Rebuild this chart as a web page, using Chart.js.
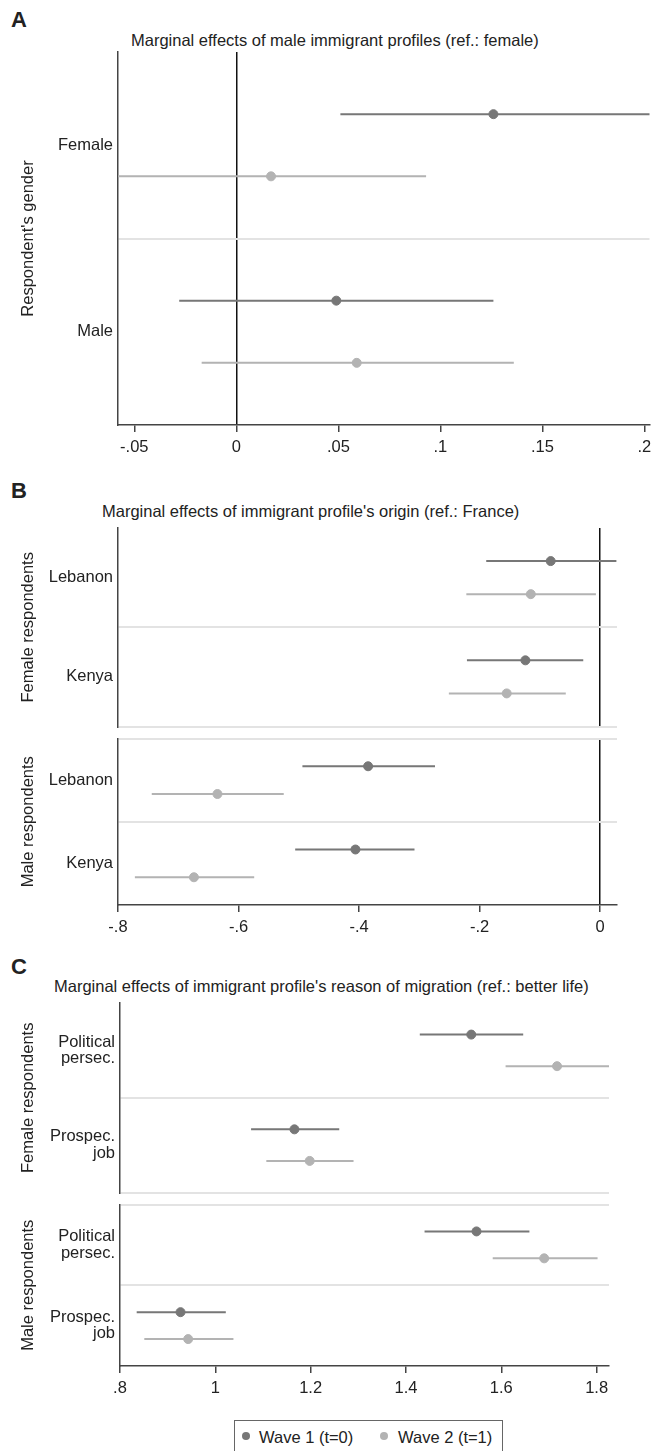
<!DOCTYPE html>
<html>
<head>
<meta charset="utf-8">
<script src="https://cdn.jsdelivr.net/npm/chart.js@4.4.1/dist/chart.umd.min.js"></script>
<style>
body { margin: 0; background: #fff; font-family: "Liberation Sans", Arial, sans-serif; color: #222; }
#page { position: relative; width: 655px; height: 1451px; overflow: hidden; }
#page canvas { position: absolute; left: 0; }
.letter { position: absolute; font-weight: bold; font-size: 22px; line-height: 22px; }
.ptitle { position: absolute; font-size: 16.5px; line-height: 16.5px; white-space: nowrap; }
#legend { position: absolute; left: 234px; top: 1420px; width: 269px; height: 40px; border: 1px solid #666; box-sizing: border-box; }
.ldot { position: absolute; width: 8px; height: 8px; border-radius: 50%; }
.ltxt { position: absolute; font-size: 16.5px; line-height: 16.5px; white-space: nowrap; }
</style>
</head>
<body>
<div id="page">
  <div class="letter" style="left:11px; top:9px;">A</div>
  <div class="ptitle" style="left:131px; top:32px;">Marginal effects of male immigrant profiles (ref.: female)</div>
  <canvas id="chartA" width="655" height="413" style="top:44px;"></canvas>

  <div class="letter" style="left:11px; top:480px;">B</div>
  <div class="ptitle" style="left:102px; top:503px;">Marginal effects of immigrant profile's origin (ref.: France)</div>
  <canvas id="chartBf" width="655" height="212" style="top:520px;"></canvas>
  <canvas id="chartBm" width="655" height="204" style="top:733px;"></canvas>

  <div class="letter" style="left:11px; top:956px;">C</div>
  <div class="ptitle" style="left:54px; top:978px;">Marginal effects of immigrant profile's reason of migration (ref.: better life)</div>
  <canvas id="chartCf" width="655" height="203" style="top:995px;"></canvas>
  <canvas id="chartCm" width="655" height="199" style="top:1199px;"></canvas>

  <div id="legend">
    <div class="ldot" style="left:7px; top:11px; background:#777;"></div>
    <div class="ltxt" style="left:24px; top:8px;">Wave 1 (t=0)</div>
    <div class="ldot" style="left:145px; top:11px; background:#b3b3b3;"></div>
    <div class="ltxt" style="left:163px; top:8px;">Wave 2 (t=1)</div>
  </div>
</div>

<script>
//==================== Data ====================

// Panel A : male immigrant profiles (ref.: female)
var xTicksA = [-0.05, 0, 0.05, 0.1, 0.15, 0.2];
var xTickLabelsA = ['-.05', '0', '.05', '.1', '.15', '.2'];
var groupsA = ['Female', 'Male'];
var estA_w1 = [0.126, 0.049];
var loA_w1 = [0.051, -0.028];
var hiA_w1 = [0.203, 0.126];
var estA_w2 = [0.017, 0.059];
var loA_w2 = [-0.059, -0.017];
var hiA_w2 = [0.093, 0.136];

// Panel B : origin (ref.: France)
var xTicksB = [-0.8, -0.6, -0.4, -0.2, 0];
var xTickLabelsB = ['-.8', '-.6', '-.4', '-.2', '0'];
var groupsB = ['Lebanon', 'Kenya'];
// female respondents
var estBf_w1 = [-0.082, -0.124];
var loBf_w1 = [-0.189, -0.221];
var hiBf_w1 = [0.027, -0.028];
var estBf_w2 = [-0.115, -0.155];
var loBf_w2 = [-0.222, -0.251];
var hiBf_w2 = [-0.007, -0.057];
// male respondents
var estBm_w1 = [-0.385, -0.406];
var loBm_w1 = [-0.494, -0.506];
var hiBm_w1 = [-0.274, -0.308];
var estBm_w2 = [-0.635, -0.674];
var loBm_w2 = [-0.744, -0.772];
var hiBm_w2 = [-0.525, -0.574];

// Panel C : reason of migration (ref.: better life)
var xTicksC = [0.8, 1, 1.2, 1.4, 1.6, 1.8];
var xTickLabelsC = ['.8', '1', '1.2', '1.4', '1.6', '1.8'];
var groupsC = [['Political', 'persec.'], ['Prospec.', 'job']];
// female respondents
var estCf_w1 = [1.537, 1.166];
var loCf_w1 = [1.429, 1.075];
var hiCf_w1 = [1.646, 1.260];
var estCf_w2 = [1.717, 1.198];
var loCf_w2 = [1.609, 1.107];
var hiCf_w2 = [1.826, 1.290];
// male respondents
var estCm_w1 = [1.548, 0.927];
var loCm_w1 = [1.439, 0.835];
var hiCm_w1 = [1.659, 1.022];
var estCm_w2 = [1.690, 0.943];
var loCm_w2 = [1.582, 0.851];
var hiCm_w2 = [1.802, 1.038];

//==================== Styling ====================
var FONT = '"Liberation Sans", Arial, sans-serif';
var TXT = '#222';
var colW1 = '#777777';
var colW2 = '#b3b3b3';
var colSep = '#e3e3e3';
Chart.defaults.font.family = FONT;

// group g -> wave 1 row at g*3+1, wave 2 row at g*3+2, label at g*3+1.5
function pointsOf(est, off) {
    var pts = [];
    for (var i = 0; i < est.length; i++) {
        pts.push({x: est[i], y: i * 3 + off});
    }
    return pts;
}

function ciOf(lo, hi, off) {
    var pts = [];
    for (var i = 0; i < lo.length; i++) {
        pts.push({x: lo[i], y: i * 3 + off});
        pts.push({x: hi[i], y: i * 3 + off});
        pts.push({x: null, y: null});
    }
    return pts;
}

function makePanel(id, o) {
    var yTicks = [];
    var sepVals = [3];
    for (var g = 0; g < o.groups.length; g++) yTicks.push(g * 3 + 1.5);
    yTicks.push(3);
    if (o.topLine) { yTicks.push(0); sepVals.push(0); }
    if (o.bottomLine) { yTicks.push(6); sepVals.push(6); }

    return new Chart(document.getElementById(id), {
        type: 'scatter',
        data: {
            datasets: [
                {data: pointsOf(o.est1, 1), backgroundColor: colW1, borderColor: colW1, pointRadius: 4.5, order: 0},
                {data: pointsOf(o.est2, 2), backgroundColor: colW2, borderColor: colW2, pointRadius: 4.5, order: 0},
                {data: ciOf(o.lo1, o.hi1, 1), showLine: true, spanGaps: false, borderColor: colW1, borderWidth: 2, pointRadius: 0, order: 1},
                {data: ciOf(o.lo2, o.hi2, 2), showLine: true, spanGaps: false, borderColor: colW2, borderWidth: 2, pointRadius: 0, order: 1}
            ]
        },
        options: {
            responsive: false,
            animation: false,
            events: [],
            layout: {padding: {left: 0, right: o.padRight, top: o.padTop, bottom: o.padBottom}},
            plugins: {legend: {display: false}, tooltip: {enabled: false}},
            scales: {
                x: {
                    type: 'linear',
                    min: o.xMin,
                    max: o.xMax,
                    afterBuildTicks: function(s) {
                        s.ticks = o.xTicks.map(function(v) { return {value: v}; });
                    },
                    afterFit: function(s) {
                        s.height = o.showX ? 32 : 0;
                        s.paddingLeft = 0;
                        s.paddingRight = 0;
                    },
                    ticks: {
                        display: o.showX,
                        autoSkip: false,
                        maxRotation: 0,
                        padding: 6,
                        color: TXT,
                        font: {size: 16.5},
                        callback: function(v) { return o.xLabels[o.xTicks.indexOf(v)]; }
                    },
                    grid: {
                        color: function(ctx) { return ctx.tick && ctx.tick.value === 0 ? '#111' : 'rgba(0,0,0,0)'; },
                        lineWidth: 1.5,
                        drawTicks: o.showX,
                        tickLength: 7,
                        tickColor: '#444',
                        tickWidth: 1.5
                    },
                    border: {display: o.showX, color: '#444', width: 1.5}
                },
                y: {
                    type: 'linear',
                    min: 0,
                    max: 6,
                    reverse: true,
                    position: 'left',
                    afterBuildTicks: function(s) {
                        s.ticks = yTicks.map(function(v) { return {value: v}; });
                    },
                    afterFit: function(s) {
                        s.width = o.left;
                        s.paddingTop = 0;
                        s.paddingBottom = 0;
                    },
                    ticks: {
                        autoSkip: false,
                        padding: 5,
                        color: TXT,
                        font: {size: 16.5, lineHeight: 1.0},
                        callback: function(v) {
                            var g = (v - 1.5) / 3;
                            return (g === 0 || g === 1) ? o.groups[g] : '';
                        }
                    },
                    grid: {
                        color: function(ctx) { return ctx.tick && sepVals.indexOf(ctx.tick.value) >= 0 ? colSep : 'rgba(0,0,0,0)'; },
                        lineWidth: 2,
                        drawTicks: false
                    },
                    border: {display: true, color: '#444', width: 1.5},
                    title: {display: true, text: o.yTitle, color: TXT, font: {size: 16.5}, padding: {top: 19, bottom: 0}}
                }
            }
        }
    });
}

//==================== Charts ====================
makePanel('chartA', {
    groups: groupsA, est1: estA_w1, lo1: loA_w1, hi1: hiA_w1, est2: estA_w2, lo2: loA_w2, hi2: hiA_w2,
    xMin: -0.058, xMax: 0.2025, xTicks: xTicksA, xLabels: xTickLabelsA, showX: true,
    yTitle: "Respondent's gender", left: 118, padTop: 8, padBottom: 0, padRight: 1.5
});

makePanel('chartBf', {
    groups: groupsB, est1: estBf_w1, lo1: loBf_w1, hi1: hiBf_w1, est2: estBf_w2, lo2: loBf_w2, hi2: hiBf_w2,
    xMin: -0.8, xMax: 0.028, xTicks: xTicksB, xLabels: xTickLabelsB, showX: false, bottomLine: true,
    yTitle: 'Female respondents', left: 118, padTop: 8, padBottom: 4, padRight: 38
});

makePanel('chartBm', {
    groups: groupsB, est1: estBm_w1, lo1: loBm_w1, hi1: hiBm_w1, est2: estBm_w2, lo2: loBm_w2, hi2: hiBm_w2,
    xMin: -0.8, xMax: 0.028, xTicks: xTicksB, xLabels: xTickLabelsB, showX: true, topLine: true,
    yTitle: 'Male respondents', left: 118, padTop: 4, padBottom: 0, padRight: 38
});

makePanel('chartCf', {
    groups: groupsC, est1: estCf_w1, lo1: loCf_w1, hi1: hiCf_w1, est2: estCf_w2, lo2: loCf_w2, hi2: hiCf_w2,
    xMin: 0.8, xMax: 1.826, xTicks: xTicksC, xLabels: xTickLabelsC, showX: false, bottomLine: true,
    yTitle: 'Female respondents', left: 120, padTop: 8, padBottom: 4, padRight: 46
});

makePanel('chartCm', {
    groups: groupsC, est1: estCm_w1, lo1: loCm_w1, hi1: hiCm_w1, est2: estCm_w2, lo2: loCm_w2, hi2: hiCm_w2,
    xMin: 0.8, xMax: 1.826, xTicks: xTicksC, xLabels: xTickLabelsC, showX: true, topLine: true,
    yTitle: 'Male respondents', left: 120, padTop: 4, padBottom: 0, padRight: 46
});
</script>
</body>
</html>
